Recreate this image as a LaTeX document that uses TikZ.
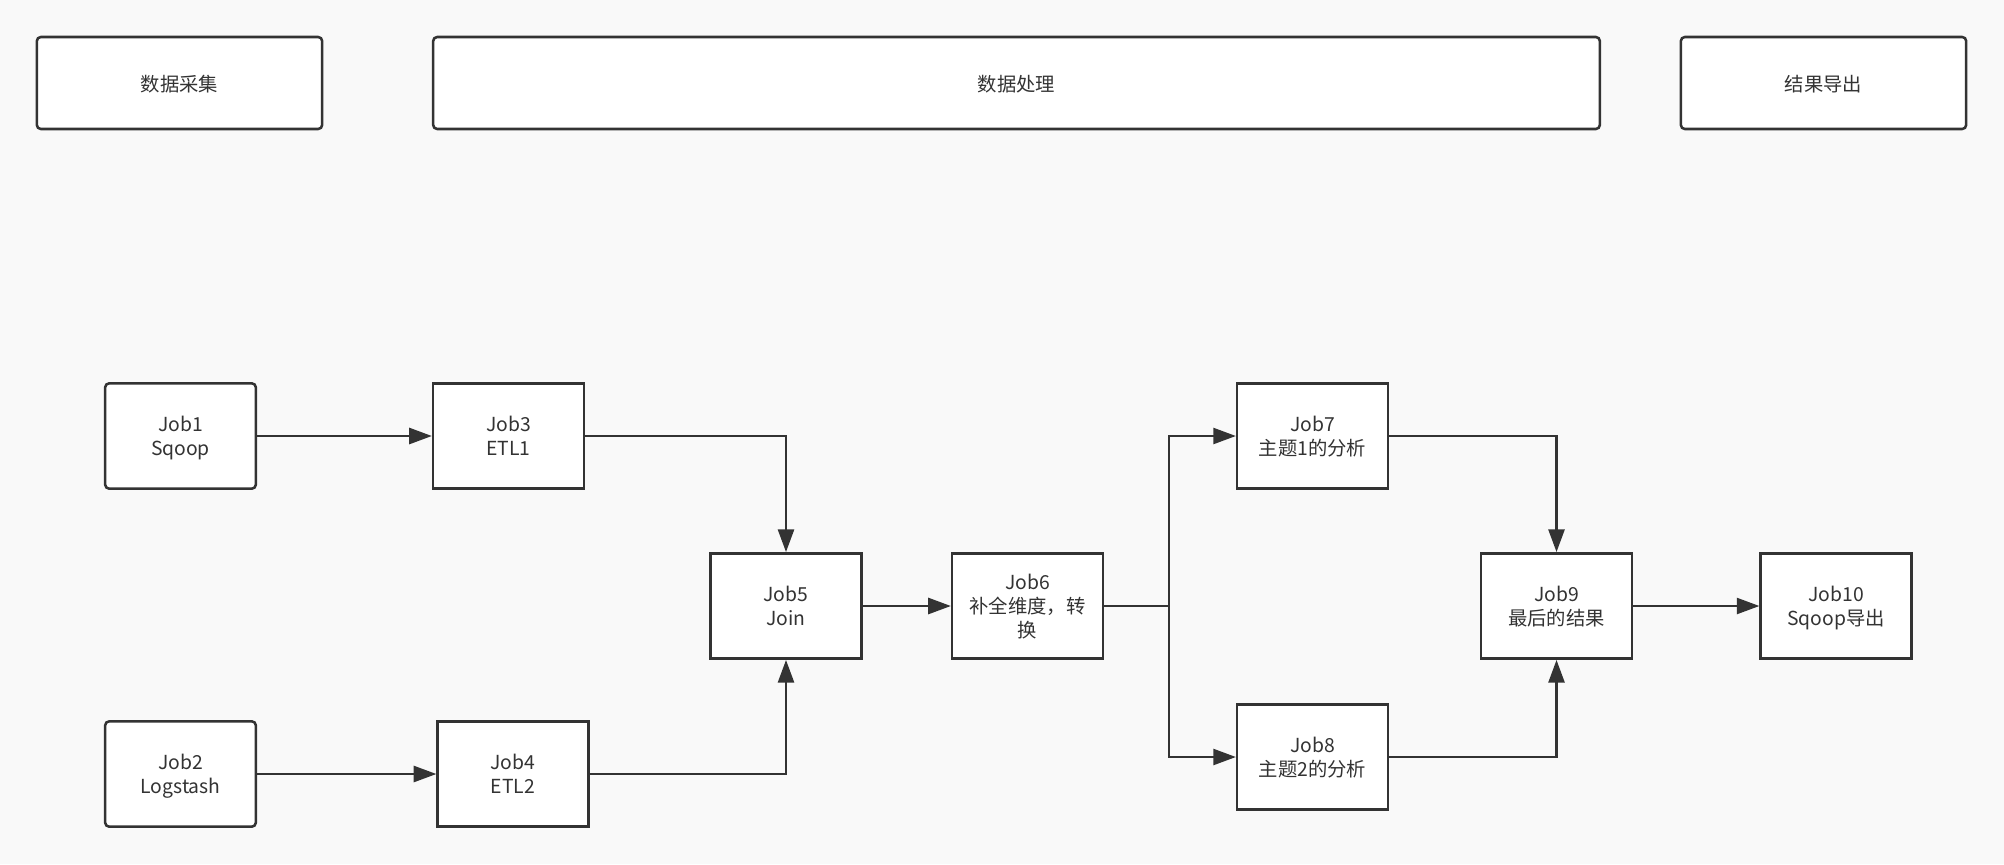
\documentclass[tikz,border=0pt]{standalone}
\usepackage{fontspec}
\setmainfont{Noto Sans CJK SC}
\usetikzlibrary{arrows.meta}
\usetikzlibrary{positioning}
\definecolor{ink}{HTML}{333333}
\definecolor{paper}{HTML}{F9F9F9}

\begin{document}
\begin{tikzpicture}[x=0.75pt,y=-0.75pt,
  stage/.style={draw=ink,line width=1.9pt,fill=white,rounded corners=3pt,minimum height=69pt,text depth=-7pt,text=ink,font=\fontsize{14.5pt}{18pt}\selectfont},
  job/.style={draw=ink,line width=1.9pt,fill=white,minimum width=113pt,minimum height=79pt,text depth=-7pt,align=center,text=ink,font=\fontsize{14.5pt}{18pt}\selectfont},
  flow/.style={draw=ink,line width=1.9pt,-{Triangle[length=17pt,width=12pt]}}]
\fill[paper] (0,0) rectangle (2004,864);
\useasboundingbox (0,0) rectangle (2004,864);

\node[stage,minimum width=214pt] (collect) at (179.5,83) {数据采集};
\node[stage,minimum width=875pt] (process) at (1016.5,83) {数据处理};
\node[stage,minimum width=214pt] (export) at (1823.5,83) {结果导出};

\node[job,rounded corners=3pt] (job1) at (180.5,436) {Job1\\Sqoop};
\node[job,rounded corners=3pt] (job2) at (180.5,774) {Job2\\Logstash};
\node[job] (job3) at (508.5,436) {Job3\\ETL1};
\node[job] (job4) at (513,774) {Job4\\ETL2};
\node[job] (job5) at (786,606) {Job5\\Join};
\node[job] (job6) at (1027.5,606) {Job6\\补全维度，转\\换};
\node[job] (job7) at (1312.5,436) {Job7\\主题1的分析};
\node[job] (job8) at (1312.5,757) {Job8\\主题2的分析};
\node[job] (job9) at (1556.5,606) {Job9\\最后的结果};
\node[job] (job10) at (1836,606) {Job10\\Sqoop导出};
\coordinate (fork) at (1169,606);

\draw[flow] (job1) -- (job3);
\draw[flow] (job2) -- (job4);
\draw[flow] (job3.east) -| (job5.north);
\draw[flow] (job4.east) -| (job5.south);
\draw[flow] (job5) -- (job6);
\draw[draw=ink,line width=1.9pt] (job6.east) -- (fork);
\draw[flow] (fork) |- (job7.west);
\draw[flow] (fork) |- (job8.west);
\draw[flow] (job7.east) -| (job9.north);
\draw[flow] (job8.east) -| (job9.south);
\draw[flow] (job9) -- (job10);
\end{tikzpicture}
\end{document}
